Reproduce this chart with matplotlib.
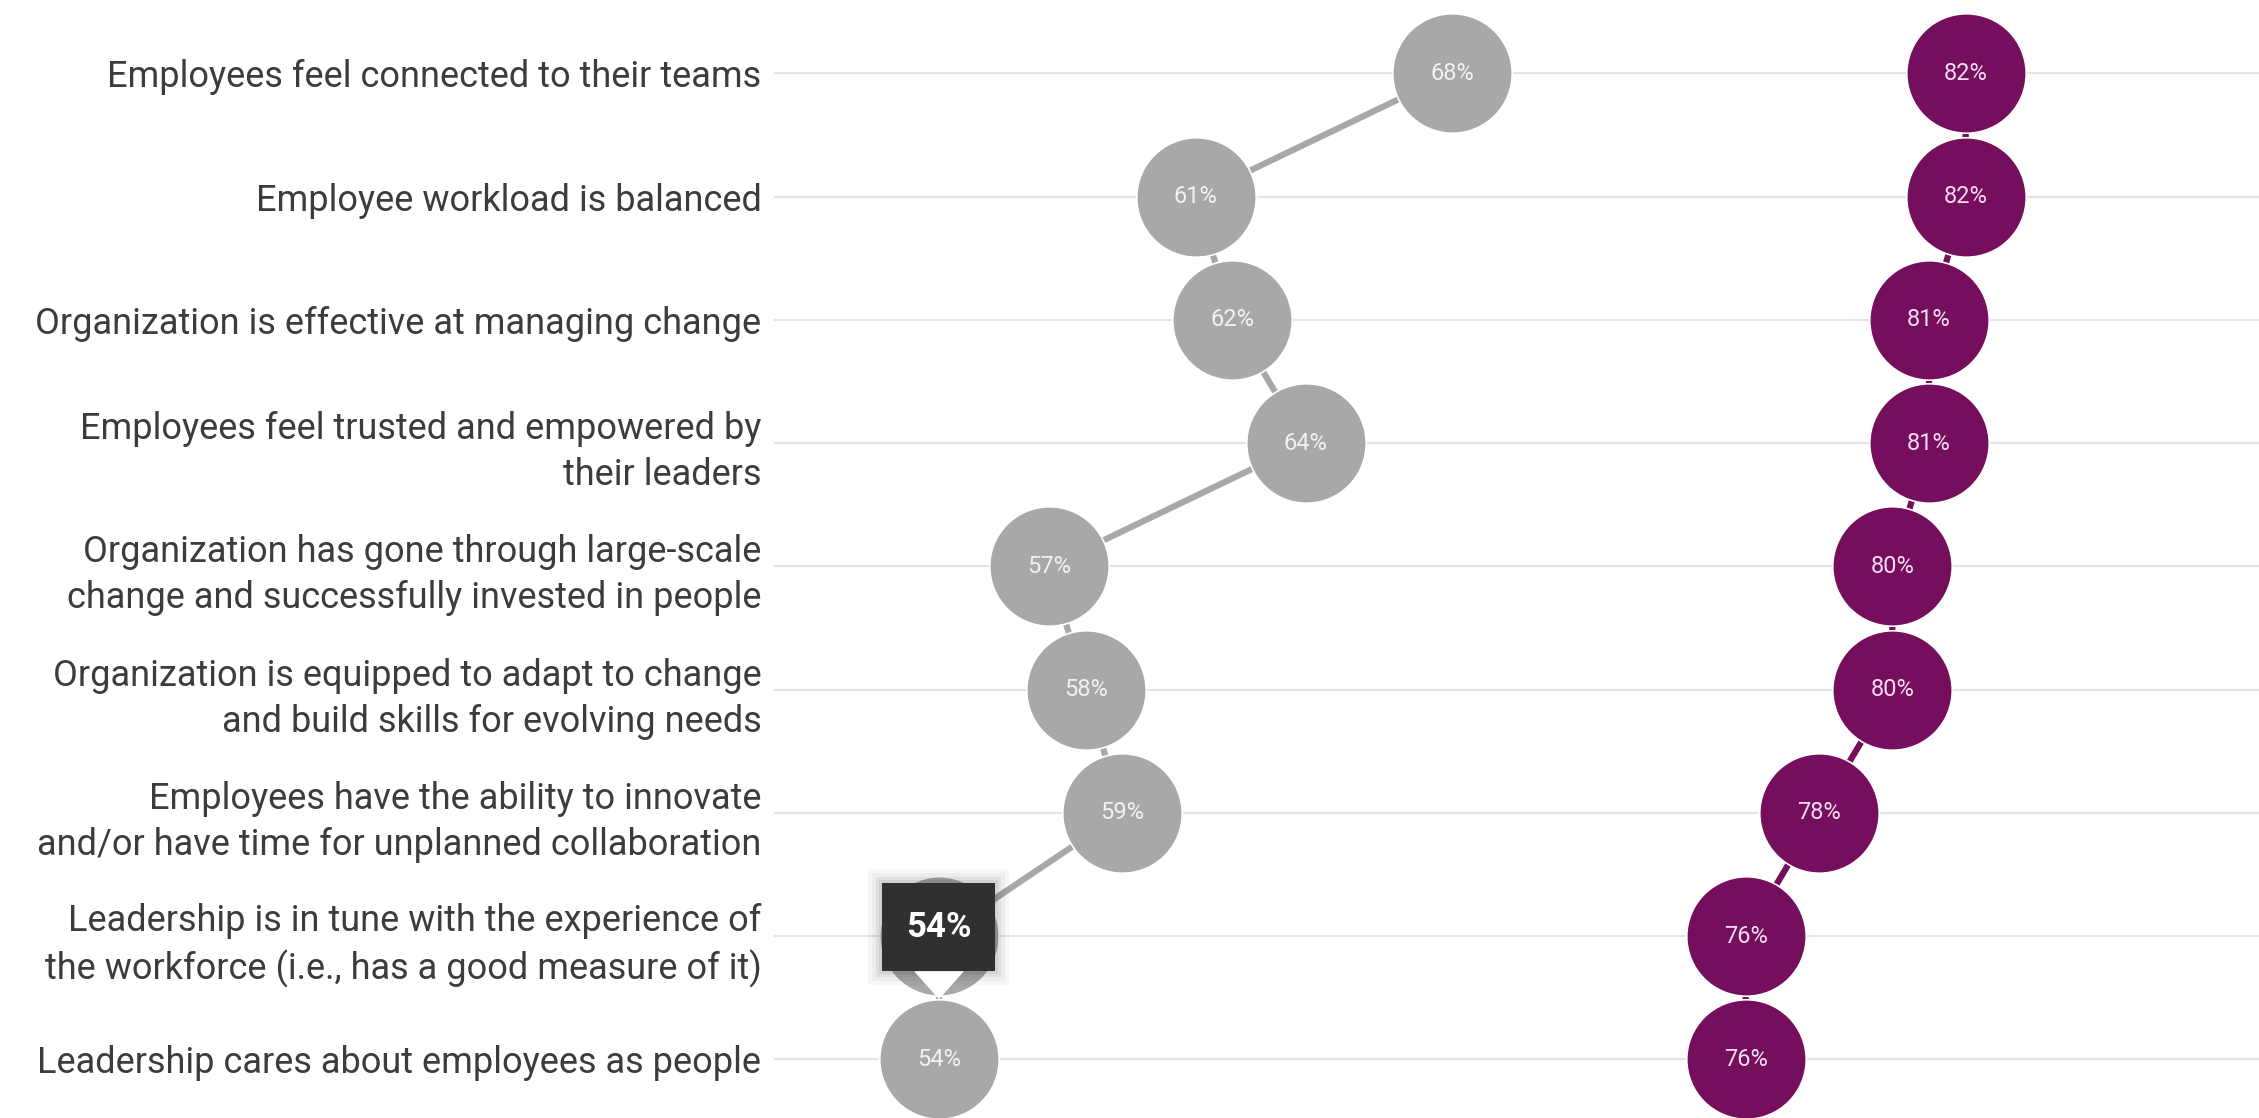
import matplotlib
matplotlib.use("Agg")
import matplotlib.pyplot as plt
from matplotlib.patches import Rectangle, Polygon
from matplotlib.transforms import IdentityTransform

categories = [
    "Employees feel connected to their teams",
    "Employee workload is balanced",
    "Organization is effective at managing change",
    "Employees feel trusted and empowered by\ntheir leaders",
    "Organization has gone through large-scale\nchange and successfully invested in people",
    "Organization is equipped to adapt to change\nand build skills for evolving needs",
    "Employees have the ability to innovate\nand/or have time for unplanned collaboration",
    "Leadership is in tune with the experience of\nthe workforce (i.e., has a good measure of it)",
    "Leadership cares about employees as people",
]
grey_values = [68, 61, 62, 64, 57, 58, 59, 54, 54]
purple_values = [82, 82, 81, 81, 80, 80, 78, 76, 76]
tooltip_index = 7
tooltip_text = "54%"

GREY = "#a8a8a8"
PURPLE = "#750e5c"

W, H = 2259, 1118
fig = plt.figure(figsize=(W / 100, H / 100), dpi=100)
left = 774 / W
ax = fig.add_axes([left, 0, 1 - left, 1])
ax.set_xlim(49.5, 90.0)
ax.set_ylim(8.475, -0.596)

rows = list(range(len(categories)))
for r in rows:
    ax.axhline(r, color="#e4e4e4", lw=1.5, zorder=0)

ax.plot(grey_values, rows, color=GREY, lw=4.5, zorder=1, solid_capstyle="round")
ax.plot(purple_values, rows, color=PURPLE, lw=4.5, zorder=1, solid_capstyle="round")
ax.plot(grey_values, rows, "o", ms=86, color=GREY, mec="white", mew=1.2, zorder=2, ls="none")
ax.plot(purple_values, rows, "o", ms=86, color=PURPLE, mec="white", mew=1.2, zorder=2, ls="none")

for r, v in zip(rows, grey_values):
    if r == tooltip_index:
        continue  # hidden under the tooltip
    ax.text(v, r, f"{v}%", ha="center", va="center", fontsize=17, color="#f2f2f2",
            family="Roboto", zorder=3)
for r, v in zip(rows, purple_values):
    ax.text(v, r, f"{v}%", ha="center", va="center", fontsize=17, color="#f6dcf0",
            family="Roboto", zorder=3)

ax.set_yticks(rows)
ax.set_yticklabels(categories, fontsize=26, color="#3c3c3c", family="Roboto",
                   linespacing=1.35)
ax.tick_params(axis="y", length=0, pad=9)
ax.set_xticks([])
for s in ax.spines.values():
    s.set_visible(False)

# tooltip
fig.canvas.draw()
px, py = ax.transData.transform((grey_values[tooltip_index], tooltip_index))
bw, btop, bbot = 113, 53, 35  # box width, offsets above/below point (pixels)
ident = IdentityTransform()
for i, (grow, a) in enumerate([(14, 0.03), (10, 0.04), (6, 0.05), (3, 0.06)]):
    fig.patches.append(Rectangle((px - bw / 2 - grow, py - bbot - grow),
                                 bw + 2 * grow, btop + bbot + 2 * grow,
                                 transform=ident, facecolor="black", alpha=a,
                                 edgecolor="none", zorder=10))
fig.patches.append(Polygon([(px - 25, py - bbot), (px + 25, py - bbot), (px, py - bbot - 28)],
                           closed=True, transform=ident, facecolor="white",
                           edgecolor="none", zorder=11))
fig.patches.append(Rectangle((px - bw / 2, py - bbot), bw, btop + bbot, transform=ident,
                             facecolor="#303030", edgecolor="none", zorder=12))
fig.text(px / W, (py - bbot + (btop + bbot) / 2) / H, tooltip_text, ha="center",
         va="center", fontsize=25, fontweight="bold", color="white", family="Roboto",
         zorder=13)

fig.savefig("out.png", dpi=100)
